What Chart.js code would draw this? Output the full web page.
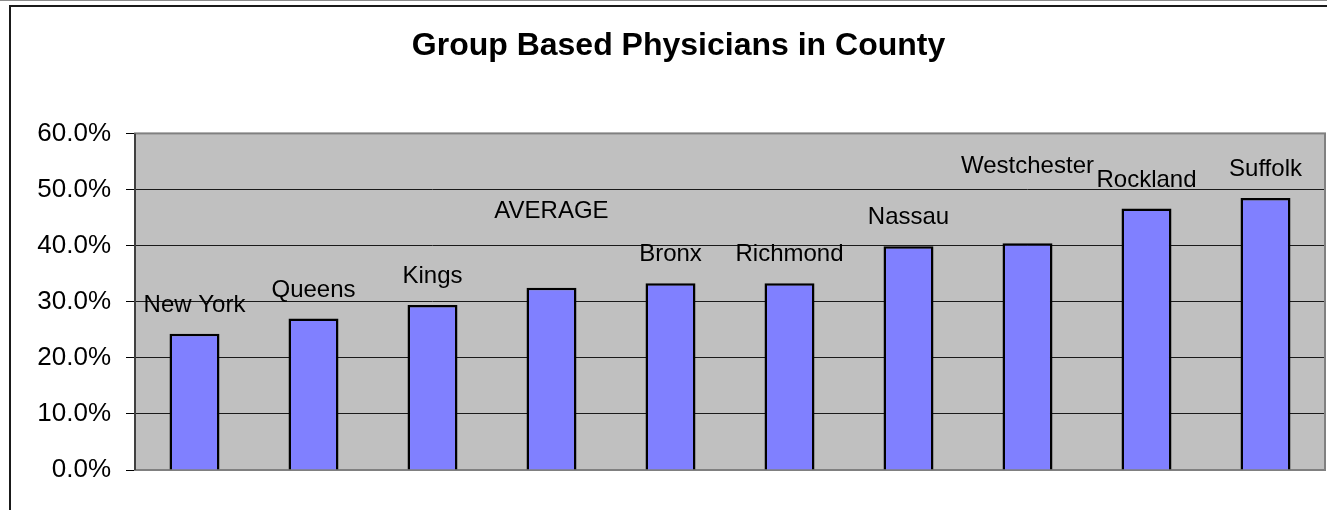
<!DOCTYPE html>
<html>
<head>
<meta charset="utf-8">
<script src="https://cdn.jsdelivr.net/npm/chart.js@4.4.1/dist/chart.umd.min.js"></script>
<style>
  html, body { margin: 0; padding: 0; background: #fff; overflow: hidden; }
  canvas { display: block; }
</style>
</head>
<body>
<canvas id="physChart" width="1327" height="510"></canvas>
<script>
// Group based physicians, share by county (%)

const counties = [
    "New York",
    "Queens",
    "Kings",
    "AVERAGE",
    "Bronx",
    "Richmond",
    "Nassau",
    "Westchester",
    "Rockland",
    "Suffolk"
];

const groupShare = [
    24.3,
    27.0,
    29.4,
    32.5,
    33.3,
    33.3,
    39.9,
    40.4,
    46.6,
    48.5
];

const yTicks = [0, 10, 20, 30, 40, 50, 60];

const FONT = "'Liberation Sans', Arial, sans-serif";

// frame + grey plot background
const frame = {
    id: "frame",
    beforeDraw(chart) {
        const ctx = chart.ctx;
        const a = chart.chartArea;
        ctx.save();
        ctx.fillStyle = "#fff";
        ctx.fillRect(0, 0, chart.width, chart.height);

        ctx.fillStyle = "#8c8c8c";
        ctx.fillRect(0, 0, chart.width, 1);
        ctx.fillStyle = "#1a1a1a";
        ctx.fillRect(9, 5, chart.width - 9, 2);
        ctx.fillRect(9, 5, 2, chart.height - 5);

        ctx.fillStyle = "#c0c0c0";
        ctx.fillRect(a.left, a.top, a.right - a.left, a.bottom - a.top);
        ctx.restore();
    },
    beforeDatasetsDraw(chart) {
        const ctx = chart.ctx;
        const a = chart.chartArea;
        ctx.save();
        ctx.strokeStyle = "#808080";
        ctx.lineWidth = 2;
        ctx.strokeRect(a.left, a.top, a.right - a.left, a.bottom - a.top);
        ctx.strokeStyle = "#404040";
        ctx.beginPath();
        ctx.moveTo(a.left, a.top);
        ctx.lineTo(a.left, a.bottom);
        ctx.stroke();
        ctx.restore();
    }
};

// county names above the bars
const barNames = {
    id: "barNames",
    afterDatasetsDraw(chart, args, opts) {
        const ctx = chart.ctx;
        const meta = chart.getDatasetMeta(0);
        ctx.save();
        ctx.font = opts.size + "px " + FONT;
        ctx.fillStyle = "#000";
        ctx.textAlign = "center";
        ctx.textBaseline = "alphabetic";
        meta.data.forEach(function(bar, i) {
            const name = chart.data.labels[i];
            const lift = opts.raise[name] || opts.gap;
            ctx.fillText(name, bar.x, bar.y - lift);
        });
        ctx.restore();
    }
};

new Chart(
document.getElementById("physChart"),
{
    type: "bar",

    data: {
        labels: counties,
        datasets: [{
            label: "Group Based",
            data: groupShare,
            backgroundColor: "#8080ff",
            borderColor: "#000",
            borderWidth: 2.5,
            barPercentage: 0.42,
            categoryPercentage: 1
        }]
    },

    options: {
        responsive: false,
        animation: false,
        layout: {
            padding: { left: 32, right: 2, top: 0, bottom: 40 }
        },
        plugins: {
            legend: { display: false },
            tooltip: { enabled: false },
            title: {
                display: true,
                text: "Group Based Physicians in County",
                color: "#000",
                font: { family: FONT, size: 32, weight: "bold" },
                padding: { top: 27, bottom: 68 }
            },
            barNames: {
                size: 24,
                gap: 22,
                raise: { "AVERAGE": 70, "Westchester": 70 }
            }
        },
        scales: {
            x: {
                display: false
            },
            y: {
                min: 0,
                max: 60,
                afterFit(scale) { scale.width = 103; },
                afterBuildTicks(scale) {
                    scale.ticks = yTicks.map(v => ({ value: v }));
                },
                border: { display: false },
                grid: {
                    color: ctx => (ctx.tick && (ctx.tick.value === 0 || ctx.tick.value === 60)) ? "#808080" : "#1a1a1a",
                    tickColor: "#000",
                    tickLength: 9,
                    lineWidth: 1
                },
                ticks: {
                    padding: 15,
                    color: "#000",
                    font: { family: FONT, size: 26 },
                    callback: v => v.toFixed(1) + "%"
                }
            }
        }
    },

    plugins: [frame, barNames]
});
</script>
</body>
</html>
